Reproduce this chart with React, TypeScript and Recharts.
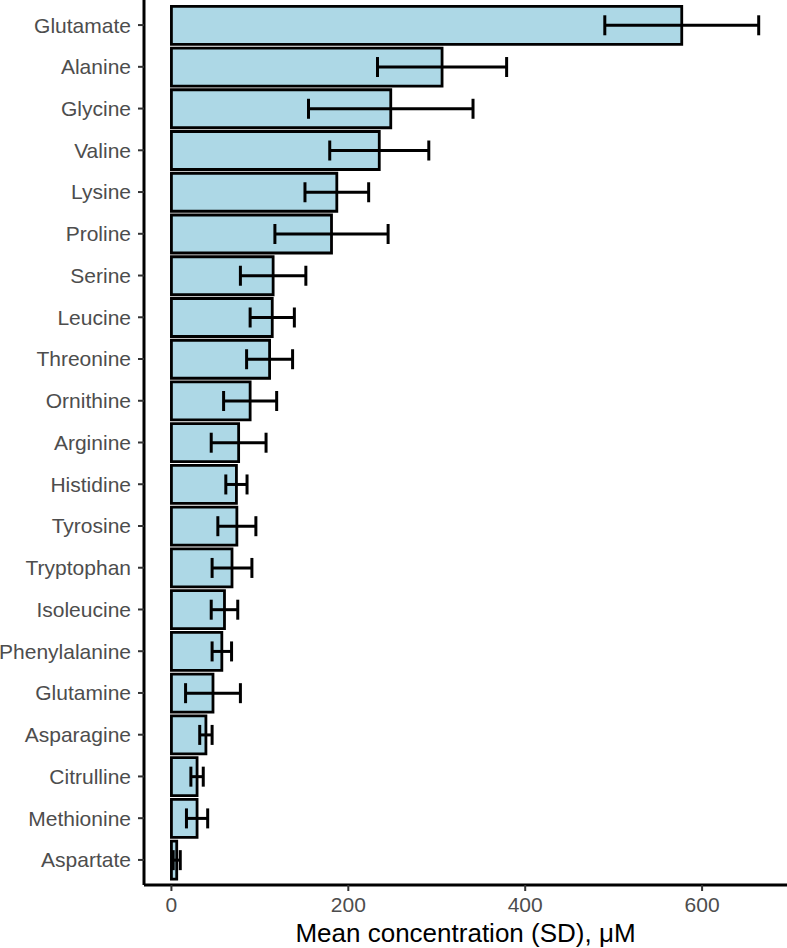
import { Bar, BarChart, ErrorBar, XAxis, YAxis } from "recharts";

const aminoAcids = [
  "Glutamate",
  "Alanine",
  "Glycine",
  "Valine",
  "Lysine",
  "Proline",
  "Serine",
  "Leucine",
  "Threonine",
  "Ornithine",
  "Arginine",
  "Histidine",
  "Tyrosine",
  "Tryptophan",
  "Isoleucine",
  "Phenylalanine",
  "Glutamine",
  "Asparagine",
  "Citrulline",
  "Methionine",
  "Aspartate",
];
const meanValues = [
  577, 306, 248, 235, 187, 181, 115, 114, 111, 89, 76, 73.5, 74, 68.5, 60, 57,
  47, 39, 29, 29, 6,
];
const sdValues = [
  87, 73, 93, 56, 36, 64, 37, 25, 26, 30, 31, 12, 21.5, 22.5, 15, 11, 31, 7, 7,
  12, 4,
];
const xTicks = [0, 200, 400, 600];

const data = aminoAcids.map((name, i) => ({
  name,
  mean: meanValues[i],
  sd: sdValues[i],
}));

const font = "'Liberation Sans', Arial, Helvetica, sans-serif";

export default function App() {
  return (
    <div style={{ position: "absolute", left: 0, top: 0 }}>
      <BarChart
        width={787}
        height={948}
        data={data}
        layout="vertical"
        margin={{ top: 0, right: 0, left: 0, bottom: 0 }}
        barCategoryGap="5%"
      >
        <XAxis
          type="number"
          domain={[-31, 696]}
          allowDataOverflow
          ticks={xTicks}
          height={63}
          axisLine={{ stroke: "#000", strokeWidth: 3 }}
          tickLine={{ stroke: "#333", strokeWidth: 2 }}
          tickSize={6}
          tickMargin={6}
          tick={{ fill: "#4D4D4D", fontSize: 21, fontFamily: font }}
          label={{
            value: "Mean concentration (SD), μM",
            position: "insideBottom",
            offset: 6,
            fill: "#000",
            fontSize: 26,
            fontFamily: font,
          }}
        />
        <YAxis
          type="category"
          dataKey="name"
          width={144}
          interval={0}
          padding={{ top: 4.2, bottom: 4.2 }}
          axisLine={{ stroke: "#000", strokeWidth: 3 }}
          tickLine={{ stroke: "#333", strokeWidth: 2 }}
          tickSize={6}
          tickMargin={7}
          tick={{ fill: "#4D4D4D", fontSize: 21, fontFamily: font }}
        />
        <Bar
          dataKey="mean"
          fill="#ADD8E6"
          stroke="#000"
          strokeWidth={2.8}
          isAnimationActive={false}
        >
          <ErrorBar
            dataKey="sd"
            direction="x"
            width={10}
            stroke="#000"
            strokeWidth={3}
          />
        </Bar>
      </BarChart>
    </div>
  );
}
